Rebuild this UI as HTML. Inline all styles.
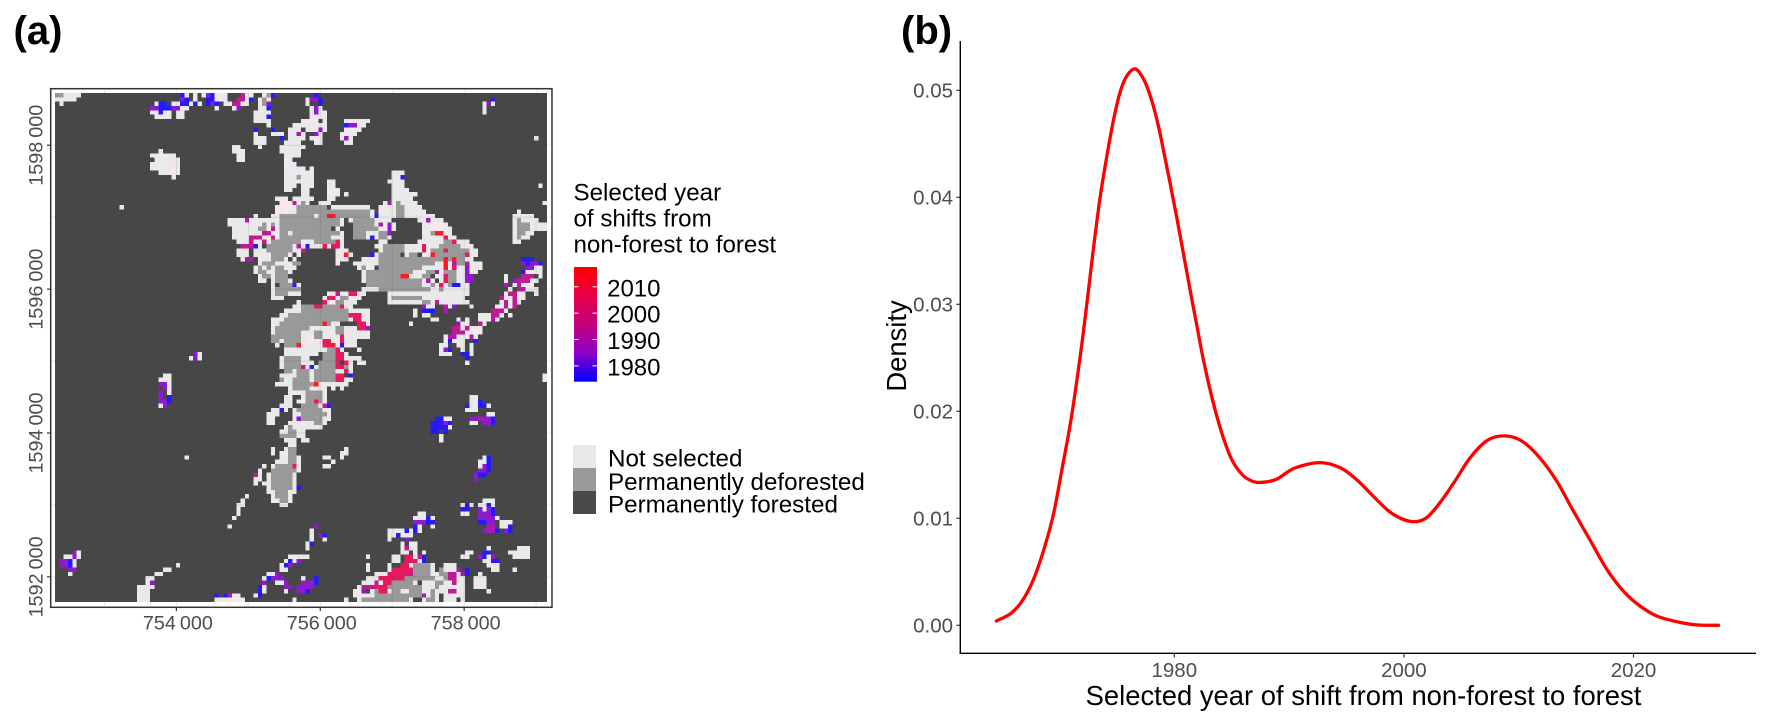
<!DOCTYPE html>
<html lang="en">
<head>
<meta charset="utf-8">
<title>Selected year of shifts from non-forest to forest</title>
<style>
html,body{margin:0;padding:0;background:#fff;}
svg{display:block;font-family:"Liberation Sans",Arial,sans-serif;}
</style>
</head>
<body>
<svg id="figure" xmlns="http://www.w3.org/2000/svg" width="1771" height="726" viewBox="0 0 1771 726">
  <defs>
    <linearGradient id="year-ramp" x1="0" y1="1" x2="0" y2="0">
      <stop offset="0" stop-color="#0000ff"/>
      <stop offset="0.25" stop-color="#8b00c8"/>
      <stop offset="0.5" stop-color="#c2007c"/>
      <stop offset="0.75" stop-color="#e80048"/>
      <stop offset="1" stop-color="#ff0000"/>
    </linearGradient>
  </defs>
  <rect x="0" y="0" width="1771" height="726" fill="#ffffff"/>
  <text x="13.5" y="44" font-size="40" font-weight="bold" fill="#000">(a)</text>
  <text x="901" y="44" font-size="40" font-weight="bold" fill="#000">(b)</text>

  <g id="map-panel">
    <rect x="50.7" y="88.7" width="501.3" height="518.6" fill="#ffffff"/>
    <rect x="55" y="93" width="492" height="509" fill="#474747"/>
    <g id="raster" shape-rendering="crispEdges"></g>
    <g id="map-grid"></g>
    <rect x="50.7" y="88.7" width="501.3" height="518.6" fill="none" stroke="#333333" stroke-width="1.5"/>
    <g id="map-axes"></g>
  </g>

  <g>
    <text x="573.5" y="200.7" font-size="24.15" fill="#000">Selected year</text>
    <text x="573.5" y="226.7" font-size="24.15" fill="#000">of shifts from</text>
    <text x="573.5" y="252.3" font-size="24.15" fill="#000">non-forest to forest</text>
    <rect x="574" y="267" width="23" height="114.7" fill="url(#year-ramp)"/>
    <g id="colorbar-ticks"></g>
  </g>

  <g>
    <rect x="573" y="445" width="23" height="23" fill="#e8e8e8"/>
    <rect x="573" y="468" width="23" height="23" fill="#999999"/>
    <rect x="573" y="491" width="23" height="23" fill="#4a4a4a"/>
    <text x="608" y="466.7" font-size="24.2" fill="#000">Not selected</text>
    <text x="608" y="490" font-size="24.2" fill="#000">Permanently deforested</text>
    <text x="608" y="512.7" font-size="24.2" fill="#000">Permanently forested</text>
  </g>

  <g id="density-panel">
    <line x1="960.3" y1="41" x2="960.3" y2="654" stroke="#000" stroke-width="1.4"/>
    <line x1="959.6" y1="653.3" x2="1756" y2="653.3" stroke="#000" stroke-width="1.4"/>
    <g id="density-axes"></g>
    <path id="density-curve" fill="none" stroke="#ff0000" stroke-width="3.3" stroke-linejoin="round" stroke-linecap="round"/>
    <text x="1363.5" y="705" font-size="27.4" text-anchor="middle" fill="#000">Selected year of shift from non-forest to forest</text>
    <text transform="translate(906,346) rotate(-90)" font-size="27.4" text-anchor="middle" fill="#000">Density</text>
  </g>
</svg>

<script>
// ---- Map data: one string per raster row, "startColumn:tokens" where a token is a class code plus optional run length
const landCoverRows = [
"0:d2n4 29:bn 32:n 34:nvbl3 43:mn2 48:ndb 60:b",
"0:n5 29:vb 32:n 35:b2l3 42:m2n 45:b 47:ndn 58:nv2b 101:b",
"1:n 23:nb2 27:n2b2n 32:bn 35:bvb 39:n2m2n2 47:ndv 58:n 61:b 99:nvn",
"22:v2b3v2n2 37:n 41:nv 47:n2b 59:nvn 99:n",
"22:l2bn2 28:n2 46:n4 59:nvn2 99:n",
"23:n4 28:n2 46:n3b 59:n4",
"46:n4 57:n2k2.n 67:n6",
"49:n 55:n2 57:n2l2n2 67:bv2n2",
"46:b 50:b 54:n3 58:n3vn 67:l3n",
"46:l 50:l3 54:n2p 57:l 60:vn 66:nl3",
"46:n3 52:b 54:n3 57:n 59:nln 66:nvn 111:n",
"46:l3 53:n2l2 60:ln 67:n2",
"41:nl 47:n 52:n5 57:n",
"24:n 41:nl2 52:n5",
"22:n2l2n2 42:ln 53:nl2n",
"23:n6 42:n2 53:ln",
"22:nl2n4 53:l2n",
"22:n2l2nkn 53:l3n2 57:l 59:n",
"24:n3kn 53:n4 57:lnl 78:n3",
"27:n 53:n3d 57:n3 78:l2b",
"53:n4 57:ln2 63:n2 77:n4",
"53:n3 57:n3 63:n2 78:n3 112:n",
"53:n2 57:n2 63:l2n 78:n3l",
"57:n2 63:l2n 67:n 78:n5l",
"51:n3 55:n2 57:n3 63:n2 78:n5",
"52:k3mn 57:dn 61:n3 76:npndn3l 113:n",
"15:n 51:nk3nd7 64:n9 75:ln3d2n3l",
"51:knkn2d17n 75:ln3d2n2ln2 107:n",
"46:n 50:n2d8nd2r2d8nbn4d2n3ln3 106:n5",
"40:n4pn7d14n 68:nd5n4 84:n2pn3 106:ndn4",
"40:n8dkdnd14n 69:d5npnvn 85:n2k3n 106:nd3n4",
"41:n6d2kmnd12 65:n 69:d5dn2vn 85:n2k3n2 106:nd3n4",
"41:n7m2k2d2nd11n 69:d3n3d2v 85:n2dr2n2 106:nd2n2",
"41:n4m3n2mnd12n3 69:d3nbnd2n 85:n5hn2 106:ndn2",
"42:n3mn2mnd7kn2d5hn 75:n2 84:n6d2hn3 106:n2",
"43:m3bn 49:d6nmnbn3hnh2n 74:n2d5n4hn3d5k2n",
"42:n3 46:n3d6n2m 65:kn2 75:nd5n4hnd3hd5n2",
"42:n3 46:n4d4n 56:n 65:nkrn 73:bnd5.nd2.n2rd7hn2",
"43:np2 47:n3d3n 55:n 65:kn2 71:n4d15rdrd2n2 108:b3",
"47:nd3n4d2 65:k 69:n6d13n2rkpd2mn3 108:vbv2b",
"46:ndndnd2n3 70:ndkn 75:d10n3 88:n2rnhn2vn3 109:v2n2",
"46:nd2n2d3n 71:nd3kn 75:d8n3d2pnd3n2vn2 108:bn4",
"47:nd2n 51:d3 71:nd8r2n3d2.n2hd2n2v2 104:n 108:m3 112:n",
"47:n2 50:nd3n 71:nd13npn.nhd2n2v2 104:n 106:vm3n2",
"50:n 52:d3bn 72:d13n2dnhndb2n2 104:p 106:nmn3",
"50:nd6 71:n4d12n2dn6 105:n 107:mpn3",
"50:nd3n3 63:n2mn2h2n2 77:n19 104:nm2n2 111:n",
"50:n3 62:nh2nd2k2n 77:nd7n10 103:mn2mn2",
"56:n 62:hk2d2n3 77:n8d2nmn7 103:nmnmn",
"55:n2d3h2d4hn2 85:pn2 90:mnv 96:n 102:n2mnm",
"53:n4d11n2 70:n3 83:n 85:b3 90:p 101:m3n",
"52:n2d14h3n2 83:n 85:n2 98:n3m2n 105:n",
"50:n3d15nh2n2 87:n2 93:n 95:n 98:n3 101:pn",
"50:n2d10rdn2 70:h2n 82:n 93:vn 95:n 98:mn",
"50:nd8n6d2n3h2v 92:m2n 95:mn3",
"50:nd6n3d2n3d2n6 92:m3n2 97:k2",
"50:d7nk2d2n4hn6 90:np2n3pn",
"50:d2nd4nk2nkh2n2hn3 90:nbn3 97:b",
"51:n 53:d3rn4kh2rnbn3 89:n2 93:n2 96:n",
"53:n10d2hn 70:n 89:nvb 94:n 96:n",
"32:vn 53:n8.d3h2n 89:n3 94:b2n",
"31:nvn 52:nd4n2 62:d3h2n4 95:b",
"52:nd4n3 61:d4h.hn 70:n2 95:n",
"52:nd4mnbnd4h2dn",
"53:d2nd2 58:dnd5n2hn",
"25:n2 52:n4d3nd5h2.b 113:n",
"24:nln 52:dn2d4nd5h2n2 113:n",
"24:v2n 51:n4d5rn2 63:n5",
"25:vn 54:nd4kn3 64:n 66:n",
"24:v 26:n 54:nkn2d4n",
"24:v 26:b 53:n2 57:nd4n 96:n2",
"24:v2b 53:n2 56:nkd2hdn 96:n2b",
"24:nv 52:n3 57:d4nmb 95:bn2b2n",
"50:n2bn 55:nd6n2 95:n3",
"49:n3 55:n2d6n 100:n2",
"49:n2 55:nvd5n2 88:b2n2 96:v2pv2b",
"49:n2 54:n3kn2d2n 87:b3vb 96:n2 99:v2b",
"53:ndn7 87:b4n",
"52:n2d2n2 87:b2.b",
"52:d4n2 89:n",
"53:n3 57:n2 89:n",
"54:n2",
"50:n 53:nd2 67:n",
"50:n 52:k2d2 66:n2",
"30:n 52:n2d2n 62:n2 66:n 99:nb",
"51:n3d2n 64:n 98:n2b",
"48:n 50:nd4hn 62:n2 98:nvb",
"47:n 50:d6n 98:v2b",
"46:mn 49:nd5n 97:vb2",
"46:n2 49:nd5n 97:v",
"46:n 48:n2d5n",
"49:nd5nb",
"49:n2d3n2",
"44:n 50:nd3n",
"43:n 50:knd2n 99:n3",
"42:n2 52:n2 94:nbn 98:n2bn",
"42:n 94:b2 98:vnvb",
"42:n 84:n2 94:n2 98:v3b",
"41:n 83:n3bn 98:v4n",
"83:v3b2 98:b2v2 103:n3",
"40:n 60:v 83:bn 87:n 100:p2 103:n2b",
"59:n 77:n4bn 83:bn 99:vp2b 104:vb",
"59:n 61:vb 77:n2bn3",
"59:n 62:n 77:n 81:v",
"58:nb 80:n 82:n2",
"58:n 80:nmn2 100:n 107:n3",
"4:vn 80:n2 83:n 85:n 95:n2 99:b2 105:n5",
"2:n2vn 54:n5 72:n 78:n2 81:h2n 84:mb 94:n2 98:vbnv 106:n4",
"1:v2bn 53:nbnv 78:n2 81:h3n 85:b 99:n2b2",
"1:v2bn 28:n 52:nbv 72:n 77:n 80:h2n 83:d4n 90:n3 100:n3",
"3:v2 25:n2 52:n2 72:n 77:nh5d4n 89:dn3p.b 101:n2 106:n",
"3:n 23:n2 49:n2v 74:n3h5md4n2d2m2npb 98:n",
"21:n2 48:nbv3 57:n 60:b 72:n3h6d7n2dm2n2 97:n3",
"21:nv 48:v 51:n2 53:v 57:v3b 71:n3mnh2d5n.n3d2n2mn2 97:n3",
"19:n4 47:bn 53:v2 56:v4 70:nm3h3d8n3dn6 97:n3",
"19:n3 47:bn 53:n 56:v2b 69:nkv.ndh2nd2n2d3n2dn3m2n2 100:n",
"19:n3 37:b.bpn2 46:nb 69:n5d11pndn.n5",
"19:n3 37:n4k2n 55:n 67:n 70:nd11n 85:nd2n 90:n3 94:n"
];
const classFills = {n:"#e9e9e9", l:"#eee8f6", k:"#fbe6ee", d:"#999999"};
const yearCodes = {b:1975, v:1984, p:1989, m:1994, h:2006, r:2015};
const rampYears = [1974, 2017.5];
const rampStops = [[0,0,255],[139,0,200],[194,0,124],[232,0,72],[255,0,0]];
const mapXTicks = [754000, 756000, 758000];
const mapXTickLabels = ["754\u2009000", "756\u2009000", "758\u2009000"];
const mapYTicks = [1592000, 1594000, 1596000, 1598000];
const mapYTickLabels = ["1592\u2009000", "1594\u2009000", "1596\u2009000", "1598\u2009000"];
const mapXGrid = [753000, 754000, 755000, 756000, 757000, 758000, 759000];
const mapYGrid = [1592000, 1593000, 1594000, 1595000, 1596000, 1597000, 1598000];
const colorbarYears = [1980, 1990, 2000, 2010];

// ---- Density data
const densityYears = [1964.5,1965.75,1966.7,1967.7,1968.7,1969.5,1970.2,1971,1971.8,1972.4,1972.9,1973.5,1974.1,1974.7,1975.3,1975.9,1976.6,1977.3,1977.9,1978.5,1979,1979.6,1980.2,1980.8,1981.4,1982,1982.5,1983.3,1984.1,1985,1986,1987,1988,1989,1990.5,1992.7,1994.5,1995.9,1997.4,1998.9,2000.6,2001.9,2003.1,2004.4,2005.8,2007.3,2008.8,2010.3,2011.8,2013.3,2014.7,2016.2,2017.7,2019.2,2020.7,2022.2,2024.2,2025.6,2027.4];
const densityValues = [0.0004,0.0011,0.0022,0.0042,0.0073,0.0105,0.0145,0.0192,0.0251,0.0302,0.0347,0.0397,0.0437,0.0472,0.0499,0.0514,0.052,0.0511,0.0495,0.0472,0.0447,0.0415,0.0382,0.0347,0.0312,0.0278,0.025,0.0212,0.0181,0.0155,0.014,0.0134,0.0134,0.0137,0.0147,0.0152,0.0147,0.0136,0.012,0.0105,0.0097,0.01,0.0114,0.0134,0.0157,0.0173,0.0177,0.0172,0.0157,0.0135,0.0108,0.008,0.0052,0.0031,0.0017,0.0008,0.00024,0.00003,0];
const densityXTicks = [1980, 2000, 2020];
const densityYTicks = [0, 0.01, 0.02, 0.03, 0.04, 0.05];
const densityYTickLabels = ["0.00", "0.01", "0.02", "0.03", "0.04", "0.05"];

// ---- Scales
const SVG_NS = "http://www.w3.org/2000/svg";
function colX(c){ return 55 + c * 4.316; }
function rowY(r){ return 93 + r * 4.314; }
function mapX(v){ return 176.4 + (v - 754000) * 0.07194; }
function mapY(v){ return 433 - (v - 1594000) * 0.07194; }
function barY(year){ return 381.7 - (year - rampYears[0]) / (rampYears[1] - rampYears[0]) * 114.7; }
function densX(year){ return 1174.3 + (year - 1980) * 11.48; }
function densY(v){ return 625.3 - v * 10700; }

function yearFill(year){
  const t = Math.max(0, Math.min(1, (year - rampYears[0]) / (rampYears[1] - rampYears[0])));
  const p = t * (rampStops.length - 1);
  const i = Math.min(rampStops.length - 2, Math.floor(p));
  const f = p - i;
  const rgb = rampStops[i].map(function(a, k){
    const mixed = a + (rampStops[i + 1][k] - a) * f;
    return Math.round(mixed * 0.9 + 255 * 0.1);
  });
  return "rgb(" + rgb.join(",") + ")";
}
function svgEl(tag, attrs, parent){
  const el = document.createElementNS(SVG_NS, tag);
  Object.keys(attrs).forEach(function(k){ el.setAttribute(k, attrs[k]); });
  parent.appendChild(el);
  return el;
}

// ---- Raster
const rasterGroup = document.getElementById("raster");
landCoverRows.forEach(function(rowText, rowIndex){
  rowText.split(" ").forEach(function(segment){
    const parts = segment.split(":");
    let col = parseInt(parts[0], 10);
    const tokens = parts[1].match(/[a-z.]\d*/g) || [];
    tokens.forEach(function(token){
      const code = token[0];
      const run = token.length > 1 ? parseInt(token.slice(1), 10) : 1;
      if (code !== ".") {
        const fill = classFills[code] || yearFill(yearCodes[code]);
        const cell = svgEl("rect", {
          x: colX(col).toFixed(2), y: rowY(rowIndex).toFixed(2),
          width: (colX(col + run) - colX(col)).toFixed(2), height: "4.32", fill: fill
        }, rasterGroup);
        
        
      }
      col += run;
    });
  });
});

// ---- Map grid and axes
const mapGrid = document.getElementById("map-grid");
mapXGrid.forEach(function(v){
  const line = svgEl("line", {x1: mapX(v), x2: mapX(v), y1: 88.7, y2: 607.3, stroke: "#3c3c3c", "stroke-opacity": 0.12, "stroke-width": 1}, mapGrid);
  
  
});
mapYGrid.forEach(function(v){
  const line = svgEl("line", {x1: 50.7, x2: 552, y1: mapY(v), y2: mapY(v), stroke: "#3c3c3c", "stroke-opacity": 0.12, "stroke-width": 1}, mapGrid);
  
  
});
const mapAxes = document.getElementById("map-axes");
mapXTicks.forEach(function(v, i){
  const tick = svgEl("line", {x1: mapX(v), x2: mapX(v), y1: 607.3, y2: 611, stroke: "#333333", "stroke-width": 1.2}, mapAxes);
  
  
  const label = svgEl("text", {x: mapX(v) + 1.5, y: 629.5, "font-size": 19.8, "text-anchor": "middle", fill: "#4d4d4d"}, mapAxes);
  label.textContent = mapXTickLabels[i];
  
  
});
mapYTicks.forEach(function(v, i){
  const tick = svgEl("line", {x1: 47, x2: 50.7, y1: mapY(v), y2: mapY(v), stroke: "#333333", "stroke-width": 1.2}, mapAxes);
  
  
  const label = svgEl("text", {transform: "translate(42.5," + mapY(v) + ") rotate(-90)", "font-size": 19.8, "text-anchor": "middle", fill: "#4d4d4d"}, mapAxes);
  label.textContent = mapYTickLabels[i];
  
  
});

// ---- Colorbar ticks
const barTicks = document.getElementById("colorbar-ticks");
colorbarYears.forEach(function(year){
  const left = svgEl("line", {x1: 574, x2: 578.5, y1: barY(year), y2: barY(year), stroke: "#ffffff", "stroke-width": 1}, barTicks);
  
  
  const right = svgEl("line", {x1: 592.5, x2: 597, y1: barY(year), y2: barY(year), stroke: "#ffffff", "stroke-width": 1}, barTicks);
  
  
  const label = svgEl("text", {x: 660.5, y: barY(year) + 9.6, "font-size": 24, "text-anchor": "end", fill: "#000"}, barTicks);
  label.textContent = String(year);
  
  
});

// ---- Density axes and curve
const densAxes = document.getElementById("density-axes");
densityXTicks.forEach(function(year){
  const tick = svgEl("line", {x1: densX(year), x2: densX(year), y1: 653.3, y2: 657.5, stroke: "#333333", "stroke-width": 1.2}, densAxes);
  
  
  const label = svgEl("text", {x: densX(year), y: 677, "font-size": 20.5, "text-anchor": "middle", fill: "#4d4d4d"}, densAxes);
  label.textContent = String(year);
  
  
});
densityYTicks.forEach(function(v, i){
  const tick = svgEl("line", {x1: 956.3, x2: 960.3, y1: densY(v), y2: densY(v), stroke: "#333333", "stroke-width": 1.2}, densAxes);
  
  
  const label = svgEl("text", {x: 953, y: densY(v) + 7.3, "font-size": 20.5, "text-anchor": "end", fill: "#4d4d4d"}, densAxes);
  label.textContent = densityYTickLabels[i];
  
  
});
const pts = densityYears.map(function(y, i){ return [densX(y), densY(densityValues[i])]; });
let d = "M" + pts[0][0].toFixed(2) + " " + pts[0][1].toFixed(2);
for (let i = 0; i < pts.length - 1; i++) {
  const p0 = pts[Math.max(0, i - 1)], p1 = pts[i], p2 = pts[i + 1], p3 = pts[Math.min(pts.length - 1, i + 2)];
  const c1x = p1[0] + (p2[0] - p0[0]) / 6, c1y = p1[1] + (p2[1] - p0[1]) / 6;
  const c2x = p2[0] - (p3[0] - p1[0]) / 6, c2y = p2[1] - (p3[1] - p1[1]) / 6;
  d += "C" + c1x.toFixed(2) + " " + c1y.toFixed(2) + " " + c2x.toFixed(2) + " " + c2y.toFixed(2) + " " + p2[0].toFixed(2) + " " + p2[1].toFixed(2);
}
document.getElementById("density-curve").setAttribute("d", d);
</script>
</body>
</html>
